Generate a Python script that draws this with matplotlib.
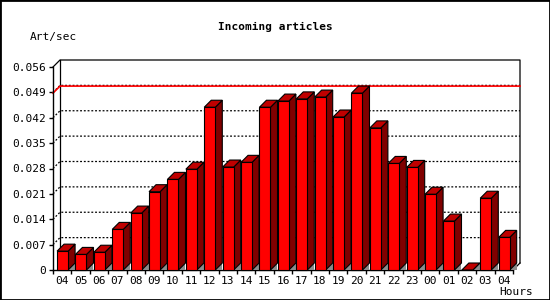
import matplotlib
matplotlib.use("Agg")
import matplotlib.pyplot as plt
from matplotlib.patches import Polygon, Rectangle
import numpy as np

# hourly article rate
hours = ["04", "05", "06", "07", "08", "09", "10", "11", "12", "13", "14", "15",
         "16", "17", "18", "19", "20", "21", "22", "23", "00", "01", "02", "03", "04"]
art_per_sec = [0.0052, 0.0043, 0.0049, 0.0112, 0.0157, 0.0216, 0.0250, 0.0278,
               0.0449, 0.0284, 0.0297, 0.0449, 0.0466, 0.0472, 0.0477, 0.0422,
               0.0488, 0.0392, 0.0294, 0.0283, 0.0209, 0.0135, 0.0, 0.0198, 0.0090]
y_ticks = [0, 0.007, 0.014, 0.021, 0.028, 0.035, 0.042, 0.049, 0.056]

FRONT = "#ff0000"
SIDE = "#800000"
TOP = "#c00000"
SHADOW = "#8c8c8c"
DEPTH_PX = 7
FONT = "DejaVu Sans Mono"

W, H = 550, 300
fig = plt.figure(figsize=(W / 100, H / 100), dpi=100)
fig.patches.append(Rectangle((0, 0), 1, 1, transform=fig.transFigure,
                             fill=False, edgecolor="black", lw=2))

# front plane of the plot area, in pixels: x 53..513, y 67..270
ax = fig.add_axes([53 / W, (H - 270) / H, 460 / W, 203 / H])
n = len(hours)
ymax = y_ticks[-1]
ax.set_xlim(0, n)
ax.set_ylim(0, ymax)
ax.set_facecolor("none")

# depth offset in data units
dx = DEPTH_PX / (460 / n)
dy = DEPTH_PX / 203 * ymax

for s in ["top", "right"]:
    ax.spines[s].set_visible(False)
for s in ["left", "bottom"]:
    ax.spines[s].set_linewidth(1)

ax.set_yticks(y_ticks)
ax.set_yticklabels(["0" if v == 0 else f"{v:.3f}" for v in y_ticks],
                   family=FONT, fontsize=8)
ax.set_xticks(np.arange(n + 1))
ax.set_xticklabels([])
ax.set_xticks(np.arange(n) + 0.5, minor=True)
ax.set_xticklabels(hours, minor=True, family=FONT, fontsize=8)
ax.tick_params(axis="both", which="major", direction="out", length=3, width=1, pad=2)
ax.tick_params(axis="x", which="minor", length=0, pad=4)

line_kw = dict(color="black", lw=0.9, clip_on=False)

# back wall grid (dotted), with short connectors to the front axis
for v in y_ticks[1:-1]:
    ax.plot([0, dx, n + dx], [v, v + dy, v + dy], linestyle=(0, (1.5, 1.5)),
            zorder=1, **line_kw)

# back wall frame
ax.plot([0, dx, n + dx, n + dx], [ymax, ymax + dy, ymax + dy, dy], zorder=1, **line_kw)
ax.plot([dx, dx], [dy, ymax + dy], zorder=1, **line_kw)
ax.plot([n, n + dx], [0, dy], zorder=1, **line_kw)

# max line
vmax = max(art_per_sec)
ax.plot([0, dx, n + dx], [vmax, vmax + dy, vmax + dy], color="red", lw=1.2,
        clip_on=False, zorder=2)

bar_w = 0.6
bar_off = 0.22
edge = dict(edgecolor="black", lw=0.8, clip_on=False, zorder=3, joinstyle="miter")
for i, v in enumerate(art_per_sec):
    x0 = i + bar_off
    x1 = x0 + bar_w
    ax.add_patch(Polygon([(x1, 0), (x1 + dx, 0), (x1 + dx, dy)], closed=True,
                         facecolor=SHADOW, edgecolor="none", clip_on=False, zorder=3))
    ax.add_patch(Polygon([(x1, 0), (x1 + dx, dy), (x1 + dx, v + dy), (x1, v)],
                         closed=True, facecolor=SIDE, **edge))
    ax.add_patch(Polygon([(x0, v), (x0 + dx, v + dy), (x1 + dx, v + dy), (x1, v)],
                         closed=True, facecolor=TOP, **edge))
    if v > 0:
        ax.add_patch(Rectangle((x0, 0), bar_w, v, facecolor=FRONT, **edge))

fig.text(275 / W, 1 - 27 / H, "Incoming articles", ha="center", va="center",
         family=FONT, fontsize=8, fontweight="bold")
fig.text(30 / W, 1 - 37 / H, "Art/sec", ha="left", va="center", family=FONT, fontsize=8)
fig.text(533 / W, 1 - 292 / H, "Hours", ha="right", va="center", family=FONT, fontsize=8)

fig.savefig("out.png", dpi=100)
